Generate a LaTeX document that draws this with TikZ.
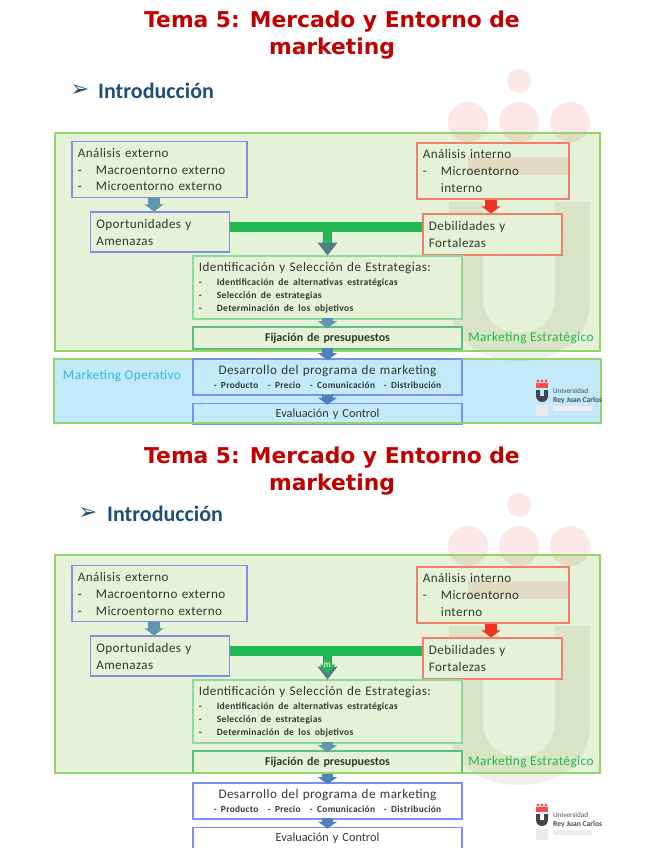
\documentclass[tikz,border=0pt]{standalone}
\usepackage{fontspec}
\usepackage{xcolor}
\usetikzlibrary{arrows.meta}
\setmainfont{Carlito}
\newfontfamily\titlefont{DejaVu Sans}
\newfontfamily\boxfont[LetterSpace=3]{Carlito}
\definecolor{titlered}{HTML}{C00000}
\definecolor{slidenavy}{HTML}{1F4E79}
\definecolor{panelgreen}{HTML}{E5F2D7}
\definecolor{panelline}{HTML}{92D668}
\definecolor{panelblue}{HTML}{C3EAFB}
\definecolor{extblue}{HTML}{7F8FE0}
\definecolor{devblue}{HTML}{7A90F2}
\definecolor{intred}{HTML}{F0806A}
\definecolor{stratline}{HTML}{8FDA98}
\definecolor{fixline}{HTML}{5CC078}
\definecolor{stratgreen}{HTML}{22B852}
\definecolor{operblue}{HTML}{2FB4EE}
\definecolor{logopink}{HTML}{FDE8E8}
\definecolor{logogrey}{HTML}{F2F0EC}
\definecolor{barteal}{HTML}{4F7F86}
\definecolor{arrowteal}{HTML}{5F95AF}
\definecolor{arrowblue}{HTML}{4F81BD}
\definecolor{arrowred}{HTML}{EE3322}
\definecolor{textdark}{HTML}{2E3A30}
\newcommand{\dashitem}[2][15.4pt]{\makebox[#1][l]{-}#2}
\begin{document}
\begin{tikzpicture}[
        x=0.03cm,
        y=-0.03cm,
        sized/.style 2 args={minimum width=#1*0.03cm, minimum height=#2*0.03cm, text width=#1*0.03cm-10pt, inner xsep=5pt, inner ysep=0pt, align=left},
        stagebox/.style={draw=extblue, line width=0.95pt, text=textdark, font={\boxfont\fontsize{11.2}{14.5}\selectfont}},
        panelbox/.style={minimum width=544*0.03cm, minimum height=218*0.03cm, inner sep=0pt, fill=panelgreen, blend mode=multiply},
        panelrule/.style={draw=panelline, line width=1.7pt},
        tema/.style={font={\titlefont\bfseries\fontsize{18.6}{23.2}\selectfont}, text=titlered, align=center},
        intro/.style={font={\bfseries\fontsize{18.8}{20}\selectfont}, text=slidenavy},
        pointer/.style={font={\titlefont\fontsize{19}{20}\selectfont}, text=slidenavy},
        blockarrow/.style={line width=10pt, draw=#1, shorten >=-1.5pt, shorten <=-1.5pt, -{Triangle[length=6pt,width=16pt,fill=#1]}},
        bar/.style={line width=8.5pt, draw=stratgreen},
        tag/.style={font={\boxfont\fontsize{11.4}{13}\selectfont}},
        tiny/.style={text=white, font={\fontsize{8}{8}\selectfont}, inner sep=0pt}
    ]
    \useasboundingbox (0,0) rectangle (655,848);
    % titles
    \node[tema] (titlea) at (332,35) {Tema 5: Mercado y Entorno de\\marketing};
    \node[tema] (titleb) at (332,471) {Tema 5: Mercado y Entorno de\\marketing};
    \node[pointer] (pointa) at (80,91) {➢};
    \node[intro, anchor=west, inner sep=0pt] (introa) at (98,91) {Introducción};
    \node[pointer] (pointb) at (88,514) {➢};
    \node[intro, anchor=west, inner sep=0pt] (introb) at (107,514) {Introducción};
    % faded emblem behind both slides
    \foreach \dy in {0,424} {
        \begin{scope}[shift={(0,\dy)}]
            \fill[logopink] (519,81) circle (12);
            \foreach \cx in {468,519,570} \fill[logopink] (\cx,122) circle (20);
            \fill[logopink] (468,157) rectangle (570,175);
            \fill[logogrey] (449,202) -- (449,300) .. controls (449,340) and (480,361) .. (519,361) .. controls (558,361) and (590,340) .. (590,300) -- (590,202) -- (555,202) -- (555,295) .. controls (555,320) and (540,333) .. (519,333) .. controls (498,333) and (483,320) .. (483,295) -- (483,202) -- cycle;
        \end{scope}
    }
    % big panels
    \node[panelbox] (strata) at (327.5,242) {};
    \node[panelbox] (stratb) at (327.5,664) {};
    \node[panelbox, fill=panelblue, minimum width=547*0.03cm, minimum height=64*0.03cm] (opera) at (327.5,391) {};
    \draw[panelrule] (strata.north west) rectangle (strata.south east);
    \draw[panelrule] (opera.north west) rectangle (opera.south east);
    \draw[panelrule] (stratb.north west) rectangle (stratb.south east);
    \node[tag, text=operblue] (opertag) at (122,376) {Marketing Operativo};
    % both slides share the flow chart
    \foreach \sl/\dy in {a/0,b/424} {
        \begin{scope}[shift={(0,\dy)}]
            \node[stagebox, sized={175}{56}] (ext\sl) at (159.5,169.5) {Análisis externo\\\dashitem{Macroentorno externo}\\\dashitem{Microentorno externo}};
            \node[stagebox, sized={139}{40}, fill=panelgreen] (opp\sl) at (160,232) {Oportunidades y\\Amenazas};
            \node[stagebox, sized={152}{56}, draw=intred] (int\sl) at (493,171) {Análisis interno\\\dashitem{Microentorno}\\\hspace*{15.4pt}interno};
            \node[stagebox, sized={139}{41}, draw=intred, fill=panelgreen] (deb\sl) at (492.5,234.5) {Debilidades y\\Fortalezas};
            \node[stagebox, sized={269}{63}, draw=stratline, fill=panelgreen] (iden\sl) at (327.5,287.5) {Identificación y Selección de Estrategias:\\[1pt]
                \bfseries\fontsize{8.2}{11}\selectfont\dashitem{Identificación de alternativas estratégicas}\\\dashitem{Selección de estrategias}\\\dashitem{Determinación de los objetivos}\par};
            \node[stagebox, sized={269}{22}, draw=fixline, fill=panelgreen, align=center, font={\bfseries\fontsize{10.2}{12}\selectfont}] (fix\sl) at (327.5,338) {Fijación de presupuestos};
            \node[stagebox, sized={269}{36}, draw=devblue, align=center] (dev\sl) at (327.5,377) {Desarrollo del programa de marketing\\
                \bfseries\fontsize{8}{12.6}\selectfont - Producto\quad - Precio\quad - Comunicación\ \ - Distribución\par};
            \node[stagebox, sized={269}{21}, draw=devblue, align=center, font={\fontsize{10.5}{12}\selectfont}] (eval\sl) at (327.5,414) {Evaluación y Control};
            \node[tag, text=stratgreen] (tag\sl) at (531,338.5) {Marketing Estratégico};
            % arrows between the boxes
            \coordinate (bar\sl) at (327.5,227);
            \coordinate (extx\sl) at (154,0);
            \coordinate (intx\sl) at (491,0);
            \draw[blockarrow=barteal, line width=7.8pt, shorten >=0pt, -{Triangle[length=11pt,width=16.5pt,fill=barteal]}] (bar\sl) -- (iden\sl.north);
            \draw[bar] (opp\sl.east |- bar\sl) -- (deb\sl.west |- bar\sl);
            \draw[blockarrow=arrowteal, shorten >=0pt, shorten <=0pt] (ext\sl.south -| extx\sl) -- (opp\sl.north -| extx\sl);
            \draw[blockarrow=arrowred, shorten >=0pt, shorten <=0pt] (int\sl.south -| intx\sl) -- (deb\sl.north -| intx\sl);
            \draw[blockarrow=arrowteal] (iden\sl) -- (fix\sl);
            \draw[blockarrow=arrowblue] (fix\sl) -- (dev\sl);
            \draw[blockarrow=arrowblue] (dev\sl) -- (eval\sl);
            % small university mark
            \fill[red!70!white] (536,383) rectangle (548,387.5);
            \foreach \cx in {538,542,546} \fill[red!70!white] (\cx,381) circle (1.6);
            \fill[black!70!cyan!70!black] (536,390) rectangle (540,396) (544,390) rectangle (548,396);
            \fill[black!70!cyan!70!black] (536,396) -- (548,396) arc[start angle=0, end angle=180, radius=6] -- cycle;
            \fill[gray!16] (536,405) rectangle (548,416);
            \node[anchor=west, inner sep=0pt, font={\fontsize{6.2}{6}\selectfont}, text=black!70] (uni\sl) at (553,391) {Universidad};
            \node[anchor=west, inner sep=0pt, font={\bfseries\fontsize{6.5}{6}\selectfont}, text=black!70] (urjc\sl) at (553,400) {Rey Juan Carlos};
            \fill[gray!14] (553,406) rectangle (592,411);
        \end{scope}
    }
    % green lines and stray marks that sit on top
    \draw[panelrule] (opera.south west) -- (opera.south east);
    \draw[panelrule] (stratb.south west) -- (stratb.south east);
    \draw[bar, line width=5.2pt] (bara) -- (327.5,243);
    \draw[bar, line width=5.2pt, -{Triangle[length=8pt,width=12.5pt,fill=stratgreen]}] (barb) -- (327.5,674);
    \node[tiny] (mark) at (327,393) {m};
    \node[tiny] (markb) at (327,665) {m};
\end{tikzpicture}
\end{document}
